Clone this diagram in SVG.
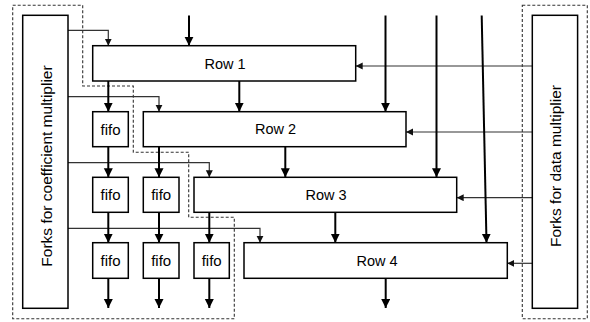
<svg xmlns="http://www.w3.org/2000/svg" width="590" height="322" viewBox="0 0 590 322">
  <defs>
    <marker id="headThick" markerUnits="userSpaceOnUse" markerWidth="10" markerHeight="10" refX="9" refY="4.5" orient="auto">
      <path d="M0,0 L9,4.5 L0,9 Z" fill="#000"/>
    </marker>
    <marker id="headThin" markerUnits="userSpaceOnUse" markerWidth="8" markerHeight="8" refX="7" refY="3.5" orient="auto">
      <path d="M0,0 L7,3.5 L0,7 Z" fill="#111"/>
    </marker>
    <style>
      .box { fill: #fff; stroke: #000; stroke-width: 1.5; }
      .dash { fill: none; stroke: #333; stroke-width: 1.1; stroke-dasharray: 3 2; }
      .thick { fill: none; stroke: #000; stroke-width: 2; marker-end: url(#headThick); }
      .thick-plain { fill: none; stroke: #000; stroke-width: 2; }
      .thin { fill: none; stroke: #333; stroke-width: 1.2; marker-end: url(#headThin); }
      .label { font-family: "Liberation Sans", Arial, sans-serif; font-size: 14.5px; fill: #000; text-anchor: middle; dominant-baseline: central; }
      .fifo { font-size: 15px; }
      .side { font-size: 15.5px; }
    </style>
  </defs>

  <!-- dashed outlines of the two fork regions -->
  <path class="dash" d="M12.7,5.3 H82.7 V86 H133.3 V152.3 H188.7 V217.3 H234.3 V318.7 H12.7 Z"/>
  <rect class="dash" x="522.3" y="5.3" width="65" height="313.4"/>

  <!-- connectors -->
  <g id="connectors">
    <!-- coefficient forks -->
    <path class="thin" d="M68,30.3 H108.3 V45.7"/>
    <path class="thin" d="M68,96.7 H159 V111.7"/>
    <path class="thin" d="M68,162.7 H209.3 V177.3"/>
    <path class="thin" d="M68,228.3 H260 V242.7"/>
    <!-- data forks -->
    <path class="thin" d="M532.3,66 H355.7"/>
    <path class="thin" d="M532.3,132 H406"/>
    <path class="thin" d="M532.3,197.7 H456.7"/>
    <path class="thin" d="M532.3,263.3 H507.3"/>
    <!-- inputs from the top -->
    <path class="thick" d="M189,15.5 V45.7"/>
    <path class="thick" d="M385.5,15.5 V111.7"/>
    <path class="thick" d="M436.5,15.5 V177.3"/>
    <path class="thick" d="M481.7,15.5 L486.5,242.7"/>
    <!-- row 1 outputs -->
    <path class="thick" d="M108.3,81 V111.7"/>
    <path class="thick" d="M239.3,81 V111.7"/>
    <!-- row 2 outputs -->
    <path class="thick" d="M108.3,146.7 V177.3"/>
    <path class="thick" d="M159,146.7 V177.3"/>
    <path class="thick" d="M285.3,146.7 V177.3"/>
    <!-- row 3 outputs -->
    <path class="thick" d="M108.3,212.3 V242.7"/>
    <path class="thick" d="M159,212.3 V242.7"/>
    <path class="thick" d="M209.3,212.3 V242.7"/>
    <path class="thick" d="M335.3,212.3 V242.7"/>
    <!-- final outputs -->
    <path class="thick" d="M108.3,278.3 V308"/>
    <path class="thick" d="M159,278.3 V308"/>
    <path class="thick" d="M209.3,278.3 V308"/>
    <path class="thick" d="M385.7,278.3 V308"/>
  </g>

  <!-- fork blocks -->
  <g id="coef-forks">
    <rect class="box" x="22.7" y="15.3" width="45.3" height="293"/>
    <text class="label side" transform="translate(46,166) rotate(-90)">Forks for coefficient multiplier</text>
  </g>
  <g id="data-forks">
    <rect class="box" x="532.3" y="15.3" width="45.3" height="293"/>
    <text class="label side" transform="translate(555,166) rotate(-90)">Forks for data multiplier</text>
  </g>

  <!-- systolic rows -->
  <g id="row1">
    <rect class="box" x="92.7" y="45.7" width="263" height="35.3"/>
    <text class="label" x="225" y="63.5">Row 1</text>
  </g>
  <g id="row2">
    <rect class="box" x="143.3" y="111.7" width="262.7" height="35"/>
    <text class="label" x="275.5" y="129.2">Row 2</text>
  </g>
  <g id="row3">
    <rect class="box" x="194" y="177.3" width="262.7" height="35"/>
    <text class="label" x="326" y="194.8">Row 3</text>
  </g>
  <g id="row4">
    <rect class="box" x="244" y="242.7" width="263.3" height="35.6"/>
    <text class="label" x="377" y="260.5">Row 4</text>
  </g>

  <!-- fifo buffers -->
  <g id="fifo-2-1">
    <rect class="box" x="92.7" y="111.7" width="35.6" height="35"/>
    <text class="label fifo" x="110.5" y="129.2">fifo</text>
  </g>
  <g id="fifo-3-1">
    <rect class="box" x="92.7" y="177.3" width="35.6" height="35"/>
    <text class="label fifo" x="110.5" y="194.8">fifo</text>
  </g>
  <g id="fifo-3-2">
    <rect class="box" x="143.3" y="177.3" width="35.7" height="35"/>
    <text class="label fifo" x="161.2" y="194.8">fifo</text>
  </g>
  <g id="fifo-4-1">
    <rect class="box" x="92.7" y="242.7" width="35.6" height="35.6"/>
    <text class="label fifo" x="110.5" y="260.5">fifo</text>
  </g>
  <g id="fifo-4-2">
    <rect class="box" x="143.3" y="242.7" width="35.7" height="35.6"/>
    <text class="label fifo" x="161.2" y="260.5">fifo</text>
  </g>
  <g id="fifo-4-3">
    <rect class="box" x="194" y="242.7" width="35.3" height="35.6"/>
    <text class="label fifo" x="211.7" y="260.5">fifo</text>
  </g>
</svg>
